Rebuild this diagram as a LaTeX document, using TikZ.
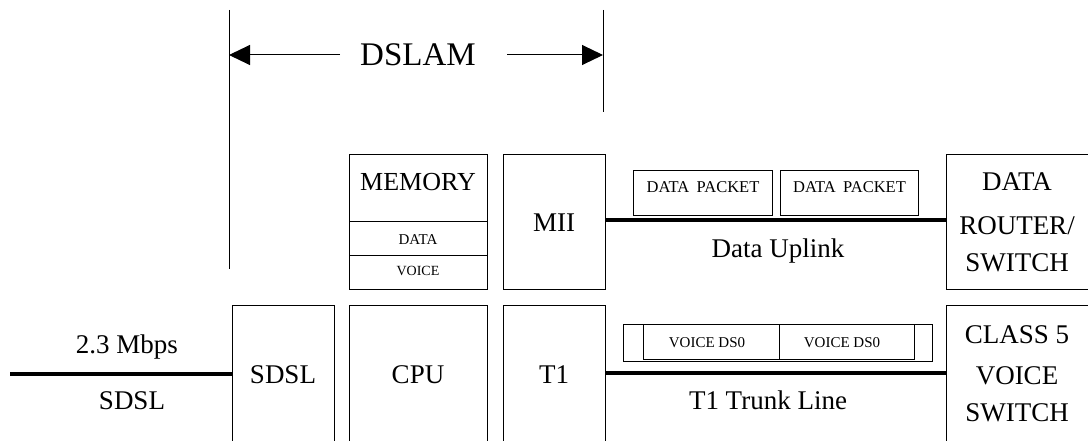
\documentclass[tikz,border=0pt]{standalone}
\usepackage{fontspec}
\setmainfont{Liberation Serif}
\usetikzlibrary{arrows.meta}
\begin{document}
\begin{tikzpicture}[x=1pt,y=-1pt,
  box/.style={draw,line width=1pt,inner sep=0pt,anchor=north west},
  big/.style={font=\fontsize{27}{32}\selectfont,anchor=base,inner sep=0pt},
  small/.style={font=\fontsize{15}{18}\selectfont,anchor=base,inner sep=0pt},
  pkt/.style={font=\fontsize{16.5}{19}\selectfont,anchor=base,inner sep=0pt},
  thin/.style={line width=1pt},
  thick/.style={line width=4pt},
  dim/.style={line width=1pt,-{Triangle[length=21pt,width=20pt]}}]
\useasboundingbox (0,0) rectangle (1088,441);
\clip (0,0) rectangle (1088,441);
% DSLAM extent
\coordinate (l1) at (229,10);
\coordinate (l2) at (229,269);
\coordinate (r1) at (603,10);
\coordinate (r2) at (603,112);
\draw[thin] (l1) -- (l2);
\draw[thin] (r1) -- (r2);
\node[font=\fontsize{33}{38}\selectfont,anchor=base,inner sep=0pt] (dslam) at (418,66) {DSLAM};
\coordinate (al) at (340,55);
\coordinate (ar) at (507,55);
\draw[dim] (al) -- (l1 |- al);
\draw[dim] (ar) -- (r1 |- ar);
% upper row
\node[box,minimum width=138pt,minimum height=135pt] (mem) at (349,154) {};
\draw[thin] (349,222) coordinate (m1) -- (m1 -| mem.east);
\draw[thin] (349,255) coordinate (m2) -- (m2 -| mem.east);
\node[big,font=\fontsize{26}{30}\selectfont] (memt) at (418,190) {MEMORY};
\node[small] (memd) at (418,244) {DATA};
\node[small,font=\fontsize{14}{16}\selectfont] (memv) at (418,275) {VOICE};
\node[box,minimum width=102pt,minimum height=135pt] (mii) at (503,154) {};
\node[big] (miit) at (554,232) {MII};
\node[box,minimum width=146pt,minimum height=135pt] (router) at (946,154) {};
\node[big] (rt1) at (1017,190) {DATA};
\node[big] (rt2) at (1017,235) {ROUTER/};
\node[big] (rt3) at (1017,272) {SWITCH};
\node[box,minimum width=139pt,minimum height=45pt] (p1) at (633,170) {};
\node[box,minimum width=138pt,minimum height=45pt] (p2) at (780,170) {};
\node[pkt] (p1t) at (p1.center |- 0,193) {DATA\hspace{0.45em}PACKET};
\node[pkt] (p2t) at (p2.center |- 0,193) {DATA\hspace{0.45em}PACKET};
\draw[thick] (mii.east |- 0,220) -- (router.west |- 0,220);
\node[big] (upl) at (778,258) {Data Uplink};
% lower row
\node[box,minimum width=102pt,minimum height=150pt] (sdsl) at (232,305) {};
\node[big] (sdslt) at (283,383) {SDSL};
\node[box,minimum width=138pt,minimum height=150pt] (cpu) at (349,305) {};
\node[big] (cput) at (418,383) {CPU};
\node[box,minimum width=102pt,minimum height=150pt] (t1) at (503,305) {};
\node[big] (t1t) at (554,383) {T1};
\node[box,minimum width=146pt,minimum height=150pt] (c5) at (946,305) {};
\node[big] (c1) at (1017,343) {CLASS 5};
\node[big] (c2) at (1017,384) {VOICE};
\node[big] (c3) at (1017,421) {SWITCH};
\node[box,minimum width=309pt,minimum height=37pt] (frame) at (623,324) {};
\node[box,minimum width=271pt,minimum height=35pt] (inner) at (643,324) {};
\draw[thin] (779,324) coordinate (fm) -- (fm |- inner.south);
\node[small] (v1) at (707,347) {VOICE DS0};
\node[small] (v2) at (842,347) {VOICE DS0};
\draw[thick] (t1.east |- 0,373) -- (c5.west |- 0,373);
\node[big] (trunk) at (768,409) {T1 Trunk Line};
% SDSL line
\coordinate (s0) at (10,374);
\draw[thick] (s0) -- (s0 -| sdsl.west);
\node[big] (mbps) at (127,353) {2.3 Mbps};
\node[big] (sdsll) at (132,409) {SDSL};
\end{tikzpicture}
\end{document}
